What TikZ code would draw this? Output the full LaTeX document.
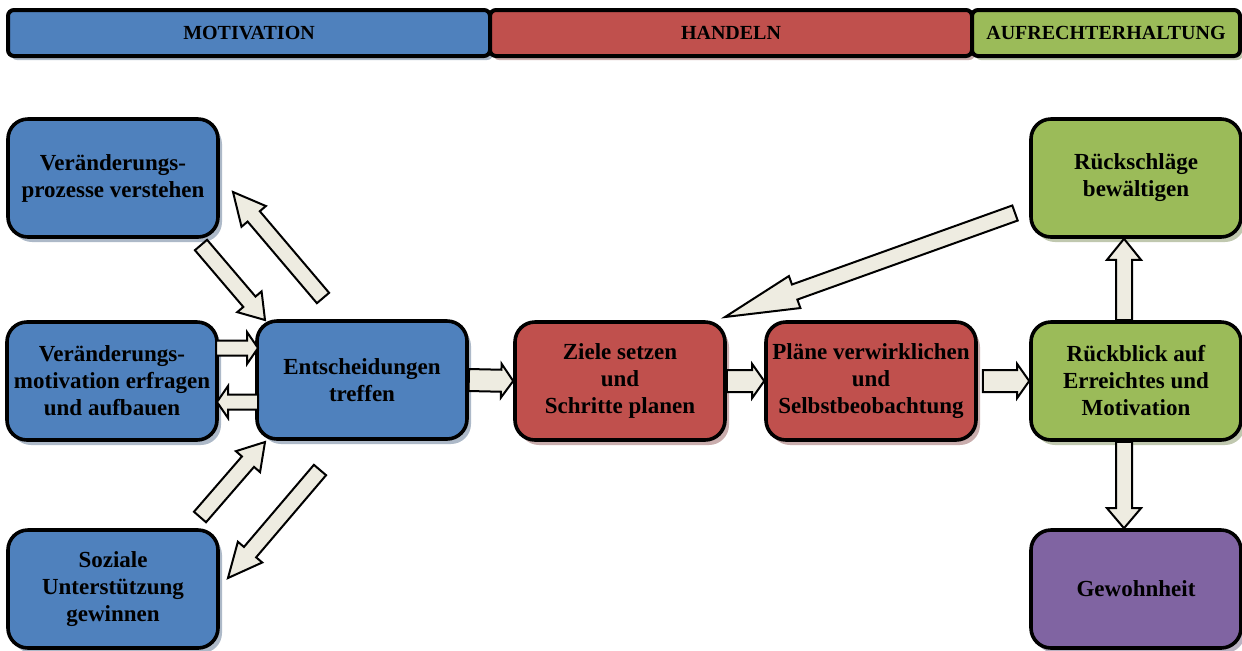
\documentclass[tikz,border=0pt]{standalone}
\usepackage{fontspec}
\setmainfont{Liberation Serif}
\usetikzlibrary{calc,shadows}

\definecolor{motblue}{HTML}{4F81BD}
\definecolor{actred}{HTML}{C0504D}
\definecolor{keepgreen}{HTML}{9BBB59}
\definecolor{habitpurple}{HTML}{8064A2}
\definecolor{cream}{HTML}{EEECE1}

\tikzset{
  phasebar/.style={draw, line width=2pt, rounded corners=3pt, fill=#1,
    minimum height=23pt, inner sep=0pt,
    font=\bfseries\fontsize{10}{11}\selectfont,
    drop shadow={shadow xshift=1.5pt, shadow yshift=-2pt, fill=#1!45!gray, opacity=.55}},
  stepbox/.style={draw, line width=1.8pt, rounded corners=10pt, fill=#1,
    minimum width=105pt, minimum height=59pt, inner sep=1pt, align=center,
    font=\bfseries\fontsize{11.5}{13.5}\selectfont,
    drop shadow={shadow xshift=2pt, shadow yshift=-2.5pt, fill=#1!45!gray, opacity=.55}},
  fatarrow/.style={draw, line width=1pt, fill=cream, line join=miter}
}

% block arrow: from, to, half shaft, half head, head length
\newcommand{\fatarrow}[5]{%
  \coordinate (fa-base) at ($(#2)!#5!(#1)$);
  \draw[fatarrow] ($(#1)!#3!90:(#2)$) -- ($(fa-base)!#3!-90:(#1)$)
    -- ($(fa-base)!#4!-90:(#1)$) -- (#2) -- ($(fa-base)!#4!90:(#1)$)
    -- ($(fa-base)!#3!90:(#1)$) -- ($(#1)!#3!-90:(#2)$) -- cycle;
}

\begin{document}
\begin{tikzpicture}[x=0.5pt, y=-0.5pt]
  \useasboundingbox (0,0) rectangle (1242,650);

  % phases
  \node[phasebar=motblue, minimum width=241pt] (pmot) at (249,33) {MOTIVATION};
  \node[phasebar=actred, minimum width=241pt] (pact) at (731,33) {HANDELN};
  \node[phasebar=keepgreen, minimum width=134pt] (pkeep) at (1106,33) {AUFRECHTERHALTUNG};

  % steps
  \node[stepbox=motblue] (proc) at (113,178) {Veränderungs-\\prozesse verstehen};
  \node[stepbox=motblue] (moti) at (112,381) {Veränderungs-\\motivation erfragen\\und aufbauen};
  \node[stepbox=motblue] (social) at (113,589) {Soziale\\Unterstützung\\gewinnen};
  \node[stepbox=motblue] (decide) at (362,380) {Entscheidungen\\treffen};
  \node[stepbox=actred] (goals) at (620,381) {Ziele setzen\\und\\Schritte planen};
  \node[stepbox=actred] (plans) at (871,381) {Pläne verwirklichen\\und\\Selbstbeobachtung};
  \node[stepbox=keepgreen] (review) at (1136,381) {Rückblick auf\\Erreichtes und\\Motivation};
  \node[stepbox=keepgreen] (setback) at (1136,178) {Rückschläge\\bewältigen};
  \node[stepbox=habitpurple] (habit) at (1136,589) {Gewohnheit};

  % arrow ends
  \coordinate (proc-out) at (201,245);
  \coordinate (decide-in1) at (265,320);
  \coordinate (decide-out1) at (323,298);
  \coordinate (proc-in) at (233,192);
  \coordinate (moti-out) at (216,348);
  \coordinate (decide-in2) at (258,348);
  \coordinate (decide-out2) at (258,402);
  \coordinate (moti-in) at (217,402);
  \coordinate (social-out) at (200,517);
  \coordinate (decide-in3) at (265,442);
  \coordinate (decide-out3) at (320,470);
  \coordinate (social-in) at (228,578);
  \coordinate (setback-out) at (1015,213);
  \coordinate (goals-in) at (725,317);
  \coordinate (review-up) at ($(review.north)+(-12,0)$);
  \coordinate (setback-in) at ($(setback.south)+(-12,0)$);
  \coordinate (review-down) at ($(review.south)+(-12,0)$);
  \coordinate (habit-in) at ($(habit.north)+(-12,0)$);
  \coordinate (plans-out) at ($(plans.east)+(5,0)$);

  % arrows
  \fatarrow{proc-out}{decide-in1}{4pt}{8pt}{12pt}
  \fatarrow{decide-out1}{proc-in}{4pt}{8pt}{16pt}
  \fatarrow{moti-out}{decide-in2}{3.75pt}{8pt}{5.5pt}
  \fatarrow{decide-out2}{moti-in}{3.75pt}{8pt}{5.5pt}
  \fatarrow{social-out}{decide-in3}{4pt}{8pt}{13pt}
  \fatarrow{decide-out3}{social-in}{4pt}{8pt}{17pt}
  \fatarrow{decide.east}{goals.west}{5.5pt}{8.5pt}{6pt}
  \fatarrow{goals.east}{plans.west}{5.5pt}{8.5pt}{6pt}
  \fatarrow{plans-out}{review.west}{5.5pt}{8.5pt}{6pt}
  \fatarrow{review-up}{setback-in}{4pt}{8.5pt}{10.5pt}
  \fatarrow{review-down}{habit-in}{4pt}{8.5pt}{10pt}
  \fatarrow{setback-out}{goals-in}{4pt}{8.5pt}{37pt}
\end{tikzpicture}
\end{document}
